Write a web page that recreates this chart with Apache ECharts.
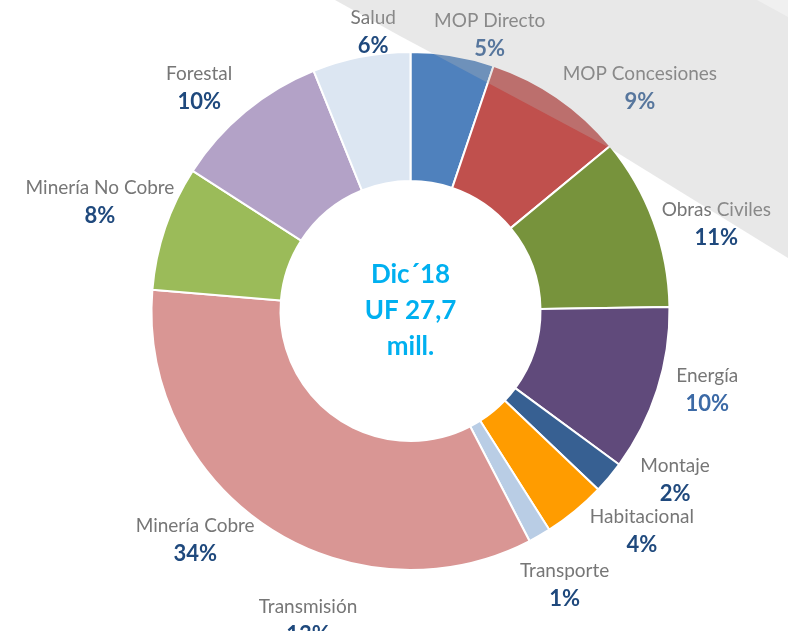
<!DOCTYPE html>
<html>
<head>
<meta charset="utf-8">
<script src="https://cdn.jsdelivr.net/npm/echarts@6/dist/echarts.min.js"></script>
<style>
html,body{margin:0;padding:0;background:#fff;}
#c{width:788px;height:631px;}
</style>
</head>
<body>
<div id="c"></div>
<script>
// ---- data ----
var categories = ['MOP Directo','MOP Concesiones','Obras Civiles','Energía','Montaje','Habitacional','Transporte','Minería Cobre','Minería No Cobre','Forestal','Salud'];
var shares = [5.2, 8.8, 10.75, 10.35, 2.0, 3.9, 1.4, 33.9, 7.8, 9.8, 6.1];
var centerLines = ['Dic´18', 'UF 27,7', 'mill.'];
var extraLabel = ['Transmisión', '13%'];

// ---- style ----
var colors = ['#4f81bd','#c0504d','#77933c','#604a7b','#376092','#ff9c00','#b9cde5','#d99694','#9bbb59','#b3a2c7','#dce6f2'];
var pctColors = ['#2d5b93','#2d5b93','#1f497d','#3c6aa6','#1f497d','#1f497d','#1f497d','#1f497d','#1f497d','#1f497d','#1f497d'];
// label placement: [angle clockwise from top (deg), distance from centre (px)]
var labelPlace = [[16,287],[45.8,320],[74.1,318],[104.9,307],[122.6,314],[133.5,319],[150.6,314],[223.3,314],[289.3,329],[316.5,307],[352.4,282]];
var CX = 410.5, CY = 311;
var FONT = 'Lato';
var NAME_SIZE = 19, PCT_SIZE = 22;

var chart = echarts.init(document.getElementById('c'), null, {renderer:'canvas'});
var data = categories.map(function(n,i){
  return {
    name: n, value: shares[i],
    itemStyle: {color: colors[i]},
    label: {rich: {
      n: {fontFamily: FONT, fontSize: NAME_SIZE, color: '#767676', lineHeight: 28, align: 'center'},
      p: {fontFamily: FONT, fontSize: PCT_SIZE, fontWeight: 'bold', color: pctColors[i], lineHeight: 28, align: 'center'}
    }}
  };
});

chart.setOption({
  backgroundColor: '#ffffff',
  animation: false,
  series: [{
    type: 'pie',
    center: [CX, CY],
    radius: [130, 259],
    startAngle: 90,
    clockwise: true,
    avoidLabelOverlap: false,
    itemStyle: {borderColor: '#ffffff', borderWidth: 2},
    label: {
      show: true,
      position: 'outside',
      formatter: function(p){ return '{n|' + p.name + '}\n{p|' + Math.round(p.value) + '%}'; }
    },
    labelLine: {show: false},
    labelLayout: function(params){
      var lp = labelPlace[params.dataIndex];
      var a = lp[0] * Math.PI / 180;
      return {
        x: CX + lp[1] * Math.sin(a),
        y: CY - lp[1] * Math.cos(a),
        align: 'center',
        verticalAlign: 'middle',
        hideOverlap: false
      };
    },
    emphasis: {disabled: true},
    data: data
  }],
  graphic: [
    {
      type: 'text', z: 10,
      style: {
        text: centerLines.join('\n'),
        x: CX, y: CY, align: 'center', verticalAlign: 'middle',
        fill: '#00b0f0', fontFamily: FONT, fontSize: 26, fontWeight: 'bold', lineHeight: 36
      }
    },
    {
      type: 'text', z: 10,
      style: {
        text: '{n|' + extraLabel[0] + '}\n{p|' + extraLabel[1] + '}',
        x: 308, y: 621, align: 'center', verticalAlign: 'middle',
        rich: {
          n: {fontFamily: FONT, fontSize: NAME_SIZE, fill: '#767676', lineHeight: 28, align: 'center'},
          p: {fontFamily: FONT, fontSize: PCT_SIZE, fontWeight: 'bold', fill: '#1f497d', lineHeight: 28, align: 'center'}
        }
      }
    },
    {
      type: 'polygon', z: 100,
      shape: {points: [[335,0],[400,36],[608,147],[788,258],[788,0]]},
      style: {fill: 'rgba(182,182,182,0.31)'}
    },
    {
      type: 'polygon', z: 101,
      shape: {points: [[757,0],[788,17],[788,0]]},
      style: {fill: 'rgba(255,255,255,0.35)'}
    }
  ]
});
</script>
</body>
</html>
